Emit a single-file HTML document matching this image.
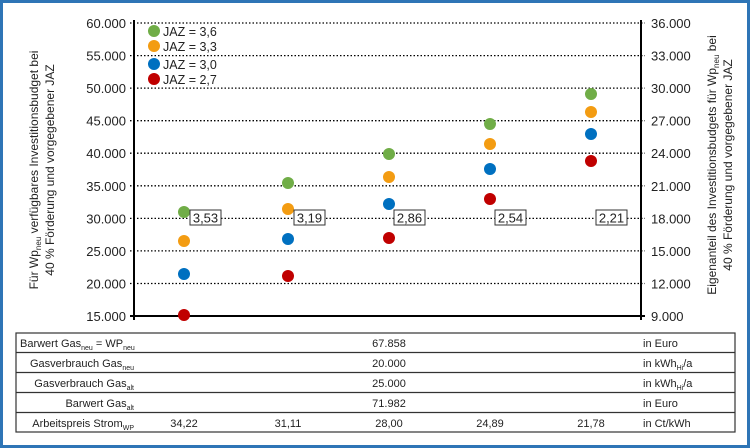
<!DOCTYPE html>
<html><head><meta charset="utf-8"><style>
body{margin:0;width:750px;height:448px;background:#fff;overflow:hidden}
svg{display:block;font-family:"Liberation Sans",sans-serif}
</style></head><body>
<svg width="750" height="448" viewBox="0 0 750 448">
<rect x="1.5" y="1.5" width="747" height="445" fill="#fff" stroke="#2e75b6" stroke-width="3"/>
<g stroke="#000" stroke-width="1.3" stroke-dasharray="1.5,2">
<line x1="130" y1="23" x2="645" y2="23"/><line x1="130" y1="55.6" x2="645" y2="55.6"/>
<line x1="130" y1="88.1" x2="645" y2="88.1"/><line x1="130" y1="120.7" x2="645" y2="120.7"/>
<line x1="130" y1="153.2" x2="645" y2="153.2"/><line x1="130" y1="185.8" x2="645" y2="185.8"/>
<line x1="130" y1="218.4" x2="645" y2="218.4"/><line x1="130" y1="250.9" x2="645" y2="250.9"/>
<line x1="130" y1="283.5" x2="645" y2="283.5"/>
</g>
<line x1="134" y1="20" x2="134" y2="320" stroke="#000" stroke-width="2"/>
<line x1="641" y1="20" x2="641" y2="320" stroke="#000" stroke-width="2"/>
<line x1="130" y1="316" x2="645" y2="316" stroke="#000" stroke-width="2"/>
<g font-size="13" text-anchor="end" fill="#222">
<text x="126" y="28">60.000</text><text x="126" y="60.6">55.000</text><text x="126" y="93.1">50.000</text>
<text x="126" y="125.7">45.000</text><text x="126" y="158.2">40.000</text><text x="126" y="190.8">35.000</text>
<text x="126" y="223.4">30.000</text><text x="126" y="255.9">25.000</text><text x="126" y="288.5">20.000</text>
<text x="126" y="321">15.000</text>
</g>
<g font-size="13" fill="#222">
<text x="651" y="28">36.000</text><text x="651" y="60.6">33.000</text><text x="651" y="93.1">30.000</text>
<text x="651" y="125.7">27.000</text><text x="651" y="158.2">24.000</text><text x="651" y="190.8">21.000</text>
<text x="651" y="223.4">18.000</text><text x="651" y="255.9">15.000</text><text x="651" y="288.5">12.000</text>
<text x="651" y="321">9.000</text>
</g>
<g font-size="12" text-anchor="middle" fill="#222">
<text transform="translate(38,170) rotate(-90)">Für Wp<tspan font-size="8" dy="3">neu</tspan><tspan dy="-3"> verfügbares Investitionsbudget bei</tspan></text>
<text transform="translate(54,170) rotate(-90)">40 % Förderung und vorgegebener JAZ</text>
<text transform="translate(716,165) rotate(-90)">Eigenanteil des Investitionsbudgets für Wp<tspan font-size="8" dy="3">neu</tspan><tspan dy="-3"> bei</tspan></text>
<text transform="translate(732,165) rotate(-90)">40 % Förderung und vorgegebener JAZ</text>
</g>
<g font-size="12.5" fill="#222">
<circle cx="154" cy="31" r="6" fill="#70ad47"/><text x="163" y="36">JAZ = 3,6</text>
<circle cx="154" cy="46" r="6" fill="#f39c12"/><text x="163" y="51">JAZ = 3,3</text>
<circle cx="154" cy="64" r="6" fill="#0070c0"/><text x="163" y="69">JAZ = 3,0</text>
<circle cx="154" cy="79" r="6" fill="#c00000"/><text x="163" y="84">JAZ = 2,7</text>
</g>
<g>
<circle cx="184" cy="212" r="6" fill="#70ad47"/><circle cx="184" cy="241" r="6" fill="#f39c12"/><circle cx="184" cy="274" r="6" fill="#0070c0"/><circle cx="184" cy="315" r="6" fill="#c00000"/>
<circle cx="288" cy="183" r="6" fill="#70ad47"/><circle cx="288" cy="209" r="6" fill="#f39c12"/><circle cx="288" cy="239" r="6" fill="#0070c0"/><circle cx="288" cy="276" r="6" fill="#c00000"/>
<circle cx="389" cy="154" r="6" fill="#70ad47"/><circle cx="389" cy="177" r="6" fill="#f39c12"/><circle cx="389" cy="204" r="6" fill="#0070c0"/><circle cx="389" cy="238" r="6" fill="#c00000"/>
<circle cx="490" cy="124" r="6" fill="#70ad47"/><circle cx="490" cy="144" r="6" fill="#f39c12"/><circle cx="490" cy="169" r="6" fill="#0070c0"/><circle cx="490" cy="199" r="6" fill="#c00000"/>
<circle cx="591" cy="94" r="6" fill="#70ad47"/><circle cx="591" cy="112" r="6" fill="#f39c12"/><circle cx="591" cy="134" r="6" fill="#0070c0"/><circle cx="591" cy="161" r="6" fill="#c00000"/>
</g>
<g font-size="13" fill="#222" text-anchor="middle">
<rect x="190" y="210" width="31" height="15" fill="#fff" stroke="#333"/><text x="205.5" y="222.5">3,53</text>
<rect x="294" y="210" width="31" height="15" fill="#fff" stroke="#333"/><text x="309.5" y="222.5">3,19</text>
<rect x="394" y="210" width="31" height="15" fill="#fff" stroke="#333"/><text x="409.5" y="222.5">2,86</text>
<rect x="495" y="210" width="31" height="15" fill="#fff" stroke="#333"/><text x="510.5" y="222.5">2,54</text>
<rect x="596" y="210" width="31" height="15" fill="#fff" stroke="#333"/><text x="611.5" y="222.5">2,21</text>
</g>
<g stroke="#333" stroke-width="1.2" fill="none">
<rect x="16" y="333" width="719" height="99"/>
<line x1="16" y1="352.5" x2="735" y2="352.5"/><line x1="16" y1="372.5" x2="735" y2="372.5"/>
<line x1="16" y1="392.5" x2="735" y2="392.5"/><line x1="16" y1="412.5" x2="735" y2="412.5"/>
</g>
<g font-size="11" fill="#222">
<text x="20" y="347">Barwert Gas<tspan font-size="7" dy="3">neu</tspan><tspan dy="-3"> = WP</tspan><tspan font-size="7" dy="3">neu</tspan></text>
<text x="134" y="367" text-anchor="end">Gasverbrauch Gas<tspan font-size="7" dy="3">neu</tspan></text>
<text x="134" y="387" text-anchor="end">Gasverbrauch Gas<tspan font-size="7" dy="3">alt</tspan></text>
<text x="134" y="407" text-anchor="end">Barwert Gas<tspan font-size="7" dy="3">alt</tspan></text>
<text x="134" y="427" text-anchor="end">Arbeitspreis Strom<tspan font-size="7" dy="3">WP</tspan></text>
<g text-anchor="middle">
<text x="389" y="347">67.858</text><text x="389" y="367">20.000</text><text x="389" y="387">25.000</text><text x="389" y="407">71.982</text>
<text x="184" y="427">34,22</text><text x="288" y="427">31,11</text><text x="389" y="427">28,00</text><text x="490" y="427">24,89</text><text x="591" y="427">21,78</text>
</g>
<text x="643" y="347">in Euro</text>
<text x="643" y="367">in kWh<tspan font-size="7" dy="3">Hi</tspan><tspan dy="-3">/a</tspan></text>
<text x="643" y="387">in kWh<tspan font-size="7" dy="3">Hi</tspan><tspan dy="-3">/a</tspan></text>
<text x="643" y="407">in Euro</text>
<text x="643" y="427">in Ct/kWh</text>
</g>
</svg>
</body></html>
